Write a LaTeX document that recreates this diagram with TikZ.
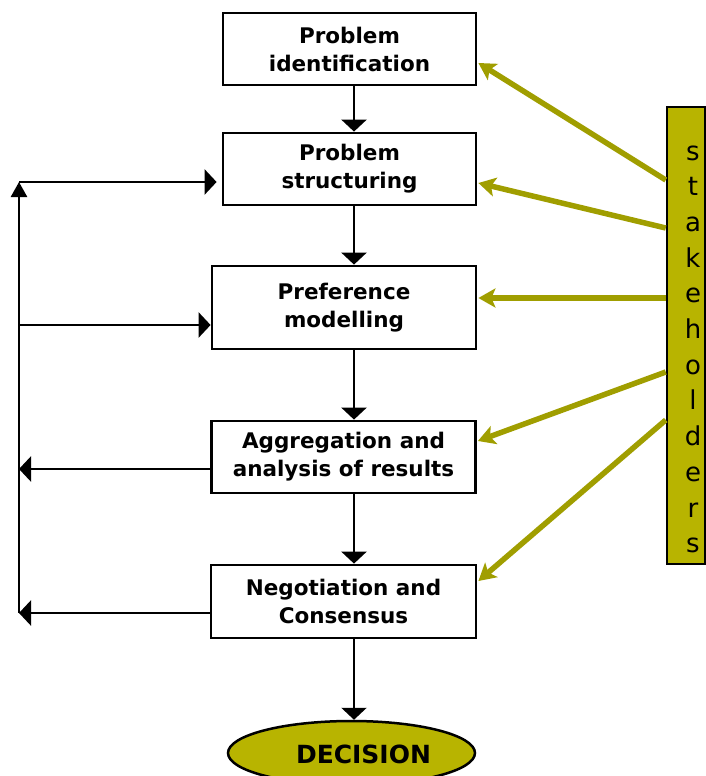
\documentclass[tikz,border=0pt]{standalone}
\usepackage{fontspec}
\setmainfont{DejaVu Sans}
\usetikzlibrary{arrows.meta,shapes.geometric}
\definecolor{olivefill}{RGB}{184,180,0}
\definecolor{oliveline}{RGB}{160,158,0}
\begin{document}
\begin{tikzpicture}[x=1pt,y=-1pt,
  stepbox/.style={draw=black, line width=2.8pt, fill=white, align=center,
    font=\fontsize{21.5}{28}\selectfont\bfseries, inner sep=0pt},
  flow/.style={line width=2.5pt, -{Triangle[length=12pt 0 0,width=25pt 0 0]}},
  rail/.style={line width=2.5pt},
  feed/.style={line width=5.5pt, draw=oliveline, -{Stealth[length=17pt 0 0,width=19pt 0 0,inset=4pt]}},
  letter/.style={font=\fontsize{26}{30}\selectfont, anchor=base, inner sep=0pt},
]
\useasboundingbox (0,0) rectangle (706,776);
\clip (0,0) rectangle (706,776);

% main boxes
\node[stepbox, minimum width=253pt, minimum height=72pt] (b1) at (349.5,49) {Problem\\identification};
\node[stepbox, minimum width=253pt, minimum height=72pt] (b2) at (349.5,169) {Problem\\structuring};
\node[stepbox, minimum width=264pt, minimum height=83pt] (b3) at (344,307.5) {Preference\\modelling};
\node[stepbox, minimum width=264pt, minimum height=72pt] (b4) at (343.5,457) {Aggregation and\\analysis of results};
\node[stepbox, minimum width=265pt, minimum height=73pt] (b5) at (343.5,601.5) {Negotiation and\\Consensus};

% decision ellipse
\node[ellipse, draw=black, line width=2.5pt, fill=olivefill, minimum width=247pt,
  minimum height=64pt, inner sep=0pt] (dec) at (351.5,753) {};
\node[font=\fontsize{25}{30}\selectfont\bfseries] (dectext) at (363.5,754) {DECISION};

% stakeholders box
\node[draw=black, line width=2.5pt, fill=olivefill, minimum width=38pt,
  minimum height=457pt, inner sep=0pt] (sh) at (686,335.5) {};
\foreach \ch [count=\i] in {s,t,a,k,e,h,o,l,d,e,r,s}
  \node[letter] (sl\i) at (693,{160+35.7*(\i-1)}) {\ch};

% vertical flow
\coordinate (colx) at (354,0);
\draw[flow] (colx |- b1.south) -- (colx |- b2.north);
\draw[flow] (colx |- b2.south) -- (colx |- b3.north);
\draw[flow] (colx |- b3.south) -- (colx |- b4.north);
\draw[flow] (colx |- b4.south) -- (colx |- b5.north);
\draw[flow] (colx |- b5.south) -- (colx |- dec.north);

% left feedback rail
\coordinate (railtop) at (19,182);
\coordinate (r2) at (19,325);
\coordinate (r3) at (19,469);
\coordinate (railbot) at (19,613);
\draw[rail, -{Triangle[length=15pt 0 0,width=16pt 0 0]}] (railbot) -- (railtop);
\draw[flow, shorten >=5pt] (railtop) -- (b2.west |- railtop);
\draw[flow] (r2) -- (b3.west |- r2);
\draw[flow] (b4.west |- r3) -- (r3);
\draw[flow] (b5.west |- railbot) -- (railbot);

% stakeholder arrows
\draw[feed] ([yshift=155.5pt]sh.west) -- ([yshift=-14pt,xshift=1pt]b1.east);
\draw[feed] ([yshift=107.5pt]sh.west) -- ([yshift=-14pt,xshift=1pt]b2.east);
\draw[feed] ([yshift=37.5pt]sh.west) -- ([yshift=9.5pt,xshift=1pt]b3.east);
\draw[feed] ([yshift=-36.5pt]sh.west) -- ([yshift=16pt,xshift=1pt]b4.east);
\draw[feed] ([yshift=-84.5pt]sh.west) -- ([yshift=20.5pt,xshift=1pt]b5.east);
\end{tikzpicture}
\end{document}
